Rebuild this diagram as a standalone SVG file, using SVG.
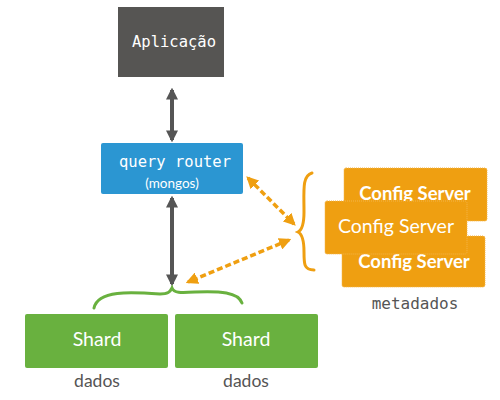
<svg xmlns="http://www.w3.org/2000/svg" width="500" height="400" viewBox="0 0 500 400">
<defs>
<style>
.mono{font-family:"DejaVu Sans Mono","Liberation Mono",monospace;}
.sans{font-family:Lato,"Open Sans",sans-serif;}
.wt{fill:#fff;text-anchor:middle;}
.lbl{fill:#555;text-anchor:middle;}
.cfg{fill:#ef9f11;stroke:#f4b54a;stroke-width:1;stroke-dasharray:1 1;}
.shard{fill:#69b13f;}
.dark{stroke:#555;stroke-width:4;fill:none;}
.dash{stroke:#ef9f11;stroke-width:3.5;fill:none;stroke-dasharray:6 3;}
</style>
<marker id="ag" viewBox="0 0 10 10" refX="8" refY="5" markerWidth="3" markerHeight="3" orient="auto-start-reverse" markerUnits="strokeWidth">
<path d="M0,0 L10,5 L0,10 z" fill="#555"/>
</marker>
<marker id="ao" viewBox="0 0 10 10" refX="8" refY="5" markerWidth="3.5" markerHeight="3.5" orient="auto-start-reverse" markerUnits="strokeWidth">
<path d="M0,0 L10,5 L0,10 z" fill="#ef9f11"/>
</marker>
</defs>
<rect width="500" height="400" fill="#fff"/>

<g id="connectors">
<line class="dark" x1="172" y1="90" x2="172" y2="140" marker-start="url(#ag)" marker-end="url(#ag)"/>
<line class="dark" x1="172" y1="198" x2="172" y2="284" marker-start="url(#ag)" marker-end="url(#ag)"/>
<line class="dash" x1="248" y1="178" x2="294" y2="224" marker-start="url(#ao)" marker-end="url(#ao)"/>
<line class="dash" x1="289" y1="240" x2="188" y2="282" marker-start="url(#ao)" marker-end="url(#ao)"/>
<path d="M94,308 C98,290 130,292 160,294 C168,294 170,292 172,288 C174,293 180,293 195,292 C220,291 238,292 242,303" stroke="#69b13f" stroke-width="3" fill="none" stroke-linecap="round"/>
<path d="M312,173 C302,176 304,190 304,212 C304,224 302,230 298,232 C302,234 304,240 304,252 C304,264 304,270 314,270" stroke="#ef9f11" stroke-width="3" fill="none" stroke-linecap="round"/>
</g>

<g id="aplicacao">
<rect x="118" y="7" width="106" height="70" fill="#565553"/>
<text class="mono wt" x="174" y="47" font-size="15.5">Aplicação</text>
</g>

<g id="query-router">
<rect x="101" y="143" width="142" height="51" rx="2" fill="#2b96d2"/>
<text class="mono wt" x="175" y="167" font-size="15.5">query router</text>
<text class="sans wt" x="172" y="188" font-size="13.5">(mongos)</text>
</g>

<g id="config-server-1">
<rect class="cfg" x="344" y="168" width="143" height="53" rx="2"/>
<text class="sans wt" x="415" y="200" font-size="18.5" font-weight="bold">Config Server</text>
</g>
<g id="config-server-3">
<rect class="cfg" x="342" y="236" width="143" height="51" rx="2"/>
<text class="sans wt" x="414" y="268" font-size="18.5" font-weight="bold">Config Server</text>
</g>
<g id="config-server-2">
<rect class="cfg" x="325" y="201" width="142" height="53" rx="2"/>
<text class="sans wt" x="396" y="233" font-size="19.5">Config Server</text>
</g>
<text class="mono lbl" x="415" y="309" font-size="16">metadados</text>

<g id="shard-1">
<rect class="shard" x="25" y="314" width="143" height="54" rx="2"/>
<text class="sans wt" x="97" y="346" font-size="19.5">Shard</text>
<text class="sans lbl" x="97" y="387" font-size="17.5">dados</text>
</g>
<g id="shard-2">
<rect class="shard" x="175" y="314" width="143" height="54" rx="2"/>
<text class="sans wt" x="246" y="346" font-size="19.5">Shard</text>
<text class="sans lbl" x="246" y="387" font-size="17.5">dados</text>
</g>
</svg>
